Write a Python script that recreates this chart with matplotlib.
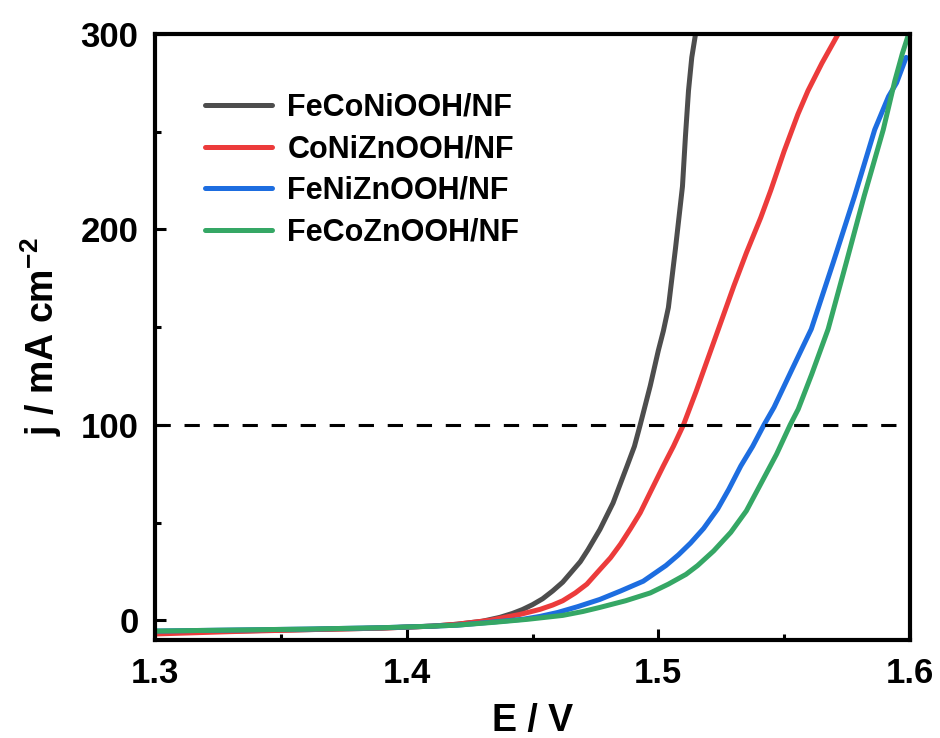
import matplotlib
matplotlib.use("Agg")
from matplotlib import pyplot as plt
from matplotlib.ticker import MultipleLocator

plt.rcParams['font.family'] = ['Liberation Sans', 'DejaVu Sans']
plt.rcParams['font.weight'] = 'bold'
plt.rcParams['mathtext.fontset'] = 'custom'
plt.rcParams['mathtext.bf'] = 'Liberation Sans:bold'
plt.rcParams['mathtext.rm'] = 'Liberation Sans:bold'

# LSV curves (E in V, j in mA cm-2)
e_feconi = [1.300, 1.330, 1.360, 1.390, 1.410, 1.420, 1.430, 1.437, 1.442, 1.446, 1.450,
            1.454, 1.458, 1.462, 1.465, 1.469, 1.472, 1.4768, 1.482, 1.4876, 1.4905,
            1.4928, 1.4968, 1.500, 1.502, 1.504, 1.5068, 1.5096, 1.5108, 1.512, 1.5133, 1.5148]
j_feconi = [-6, -5.5, -4.8, -4, -3, -2, -0.5, 1.5, 3.5, 5.5, 8,
            11, 15, 19.5, 24, 30, 36, 46.5, 60, 79, 89,
            100, 120, 138, 148, 160, 190, 222, 248, 271, 288, 300]

e_conizn = [1.300, 1.330, 1.360, 1.390, 1.410, 1.420, 1.433, 1.440, 1.445, 1.453, 1.458,
            1.462, 1.467, 1.4716, 1.4768, 1.481, 1.485, 1.489, 1.4928, 1.497, 1.502,
            1.506, 1.510, 1.515, 1.520, 1.525, 1.530, 1.535, 1.5407, 1.5447, 1.550,
            1.5555, 1.5595, 1.565, 1.5715]
j_conizn = [-7, -5.8, -4.8, -4, -3, -2, 0, 1.8, 3, 5.6, 7.8,
            10, 14, 18.5, 26, 32, 39, 47, 55, 66, 79,
            89, 100, 117, 135, 153, 171, 188, 206, 220, 240,
            259, 271, 285, 300]

e_fenizn = [1.300, 1.330, 1.360, 1.390, 1.410, 1.420, 1.435, 1.446, 1.453, 1.460, 1.468,
            1.4768, 1.485, 1.494, 1.503, 1.508, 1.5128, 1.518, 1.5236, 1.528, 1.5328, 1.5375,
            1.542, 1.546, 1.553, 1.5608, 1.5695, 1.578, 1.586, 1.5915, 1.5947, 1.5985]
j_fenizn = [-5.5, -5, -4.5, -3.8, -3, -2.5, -0.8, 0.5, 2, 4, 7,
            10.7, 15, 20, 28, 33.5, 39.5, 47, 57, 67, 79, 89,
            100, 109, 128, 149, 183, 217, 251, 268, 275, 288]

e_fecozn = [1.300, 1.330, 1.360, 1.390, 1.410, 1.420, 1.435, 1.448, 1.455, 1.462, 1.470,
            1.4768, 1.487, 1.4968, 1.504, 1.511, 1.5156, 1.522, 1.5288, 1.535, 1.5408, 1.547,
            1.5524, 1.5556, 1.561, 1.5675, 1.5747, 1.5818, 1.5894, 1.594, 1.597, 1.5995]
j_fecozn = [-5.5, -5, -4.5, -3.8, -3, -2.5, -1, 0.5, 1.5, 2.5, 4.5,
            6.6, 10, 14, 18.5, 23.5, 28, 35.5, 45, 56, 70, 85,
            100, 108, 126, 149, 183, 217, 251, 276, 290, 300]

labels = ["FeCoNiOOH/NF", "CoNiZnOOH/NF", "FeNiZnOOH/NF", "FeCoZnOOH/NF"]
colors = ["#4d4d4d", "#ec3b3b", "#1d6de0", "#35a765"]

fig = plt.figure(figsize=(9.4, 7.38), dpi=100)
ax = fig.add_axes([0.165, 0.133, 0.803, 0.821])

series = [(e_feconi, j_feconi), (e_conizn, j_conizn), (e_fenizn, j_fenizn), (e_fecozn, j_fecozn)]
for (e, j), lab, c in zip(series, labels, colors):
    ax.plot(e, j, color=c, lw=3.6, label=lab, solid_capstyle='round', solid_joinstyle='round')

ax.axhline(100, color='black', lw=2.2, dashes=(5, 4.5))

ax.set_xlim(1.3, 1.6)
ax.set_ylim(-10, 300)
ax.xaxis.set_minor_locator(MultipleLocator(0.05))
ax.yaxis.set_major_locator(MultipleLocator(100))
ax.yaxis.set_minor_locator(MultipleLocator(50))
ax.set_xticks([1.3, 1.4, 1.5, 1.6])
ax.set_xticklabels(["1.3", "1.4", "1.5", "1.6"])

ax.tick_params(which='major', direction='in', length=8, width=2.2, labelsize=25, pad=12)
ax.tick_params(which='minor', direction='in', length=4, width=2.2)
for s in ax.spines.values():
    s.set_linewidth(3)

ax.set_xlabel("E / V", fontsize=27, fontweight='bold', labelpad=10)
ax.set_ylabel(r"j / mA cm$^{\mathbf{-2}}$", fontsize=27, fontweight='bold', labelpad=12)

leg = ax.legend(loc='upper left', bbox_to_anchor=(0.066, 0.903), frameon=False,
                fontsize=22, handlelength=2.2, handletextpad=0.5, labelspacing=0.38,
                borderpad=0, borderaxespad=0)
for t in leg.get_texts():
    t.set_fontweight('bold')

fig.savefig("out.png", dpi=100)
